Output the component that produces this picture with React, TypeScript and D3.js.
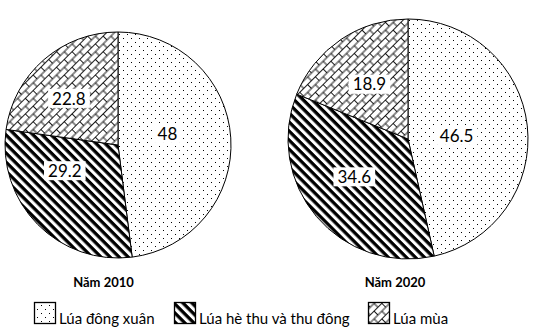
import React, { useEffect, useRef } from "react";
import * as d3 from "d3";

const categories = ["Lúa đông xuân", "Lúa hè thu và thu đông", "Lúa mùa"];
const years = ["Năm 2010", "Năm 2020"];
const values2010 = [48, 29.2, 22.8];
const values2020 = [46.5, 34.6, 18.9];
const valueLabels2010 = ["48", "29.2", "22.8"];
const valueLabels2020 = ["46.5", "34.6", "18.9"];

const W = 535;
const H = 334;
const FONT = "Lato, Carlito, 'Open Sans', sans-serif";

// layout (not data)
const pies = [
  { cx: 118, cy: 145, r: 113, titleX: 103.5, nudges: [[-7, -8], [-13, -14], [-12, -4]] },
  { cx: 408, cy: 139, r: 120, titleX: 395, nudges: [[-11, 3], [-8, -1], [-5, -5]] },
];
const patternIds = ["pDots", "pHatch", "pBrick"];
const legendBoxX = [34, 174, 368];

export default function App() {
  const ref = useRef<SVGSVGElement>(null);

  useEffect(() => {
    const svg = d3.select(ref.current);
    svg.selectAll("*").remove();
    const defs = svg.append("defs");

    // dots
    const pd = defs.append("pattern").attr("id", "pDots").attr("patternUnits", "userSpaceOnUse")
      .attr("width", 8).attr("height", 8);
    pd.append("rect").attr("width", 8).attr("height", 8).attr("fill", "#fff");
    pd.append("rect").attr("x", 1).attr("y", 1).attr("width", 1).attr("height", 1).attr("fill", "#000");
    pd.append("rect").attr("x", 5).attr("y", 5).attr("width", 1).attr("height", 1).attr("fill", "#000");

    // thick diagonal hatch "\"
    const ph = defs.append("pattern").attr("id", "pHatch").attr("patternUnits", "userSpaceOnUse")
      .attr("width", 8).attr("height", 6.4).attr("patternTransform", "rotate(45)");
    ph.append("rect").attr("width", 8).attr("height", 6.4).attr("fill", "#fff");
    ph.append("rect").attr("y", 0).attr("width", 8).attr("height", 3.3).attr("fill", "#000");

    // diagonal brick "/"
    const pb = defs.append("pattern").attr("id", "pBrick").attr("patternUnits", "userSpaceOnUse")
      .attr("width", 11).attr("height", 11).attr("patternTransform", "rotate(-45)");
    pb.append("rect").attr("width", 11).attr("height", 11).attr("fill", "#fff");
    const bs = { stroke: "#000", "stroke-width": 0.9 };
    const addLine = (x1: number, y1: number, x2: number, y2: number) => {
      const l = pb.append("line").attr("x1", x1).attr("y1", y1).attr("x2", x2).attr("y2", y2);
      Object.entries(bs).forEach(([k, v]) => l.attr(k, v as any));
    };
    addLine(0, 0.5, 11, 0.5);
    addLine(0, 6, 11, 6);
    addLine(0.5, 0.5, 0.5, 6);
    addLine(6, 6, 6, 11);

    const datasets = [values2010, values2020];
    const labelSets = [valueLabels2010, valueLabels2020];

    datasets.forEach((vals, pi) => {
      const p = pies[pi];
      const pie = d3.pie<number>().sort(null).value((d) => d);
      const arcs = pie(vals);
      const arc = d3.arc<d3.PieArcDatum<number>>().innerRadius(0).outerRadius(p.r);
      const labelArc = d3.arc<d3.PieArcDatum<number>>().innerRadius(p.r * 0.5).outerRadius(p.r * 0.5);
      const g = svg.append("g").attr("transform", `translate(${p.cx},${p.cy})`);
      g.selectAll("path.slice").data(arcs).enter().append("path")
        .attr("d", arc as any)
        .attr("fill", (_d, i) => `url(#${patternIds[i]})`)
        .attr("stroke", "#000")
        .attr("stroke-width", 1);

      arcs.forEach((a, i) => {
        const [x, y] = labelArc.centroid(a);
        const lx = x + p.nudges[i][0];
        const ly = y + p.nudges[i][1];
        const lg = g.append("g");
        const rect = lg.append("rect").attr("fill", "#fff");
        const t = lg.append("text")
          .attr("x", lx).attr("y", ly)
          .attr("text-anchor", "middle")
          .attr("dy", "0.36em")
          .attr("font-family", FONT)
          .attr("font-size", 17)
          .attr("fill", "#000")
          .text(labelSets[pi][i]);
        const bb = (t.node() as SVGTextElement).getBBox();
        rect.attr("x", bb.x - 4).attr("y", ly - 9.5).attr("width", bb.width + 8).attr("height", 19);
      });

      svg.append("text")
        .attr("x", p.titleX).attr("y", 287)
        .attr("text-anchor", "middle")
        .attr("font-family", FONT)
        .attr("font-weight", "bold")
        .attr("font-size", 13)
        .attr("fill", "#000")
        .text(years[pi]);
    });

    // legend
    categories.forEach((c, i) => {
      const x = legendBoxX[i];
      svg.append("rect").attr("x", x + 0.5).attr("y", 302.5).attr("width", 21).attr("height", 21)
        .attr("fill", `url(#${patternIds[i]})`).attr("stroke", "#000").attr("stroke-width", 1.3);
      svg.append("text").attr("x", x + 25).attr("y", 324)
        .attr("font-family", FONT).attr("font-size", 15).attr("fill", "#000").text(c);
    });
  }, []);

  return (
    <svg ref={ref} width={W} height={H}
      style={{ position: "absolute", left: 0, top: 0, background: "#fff" }} />
  );
}
